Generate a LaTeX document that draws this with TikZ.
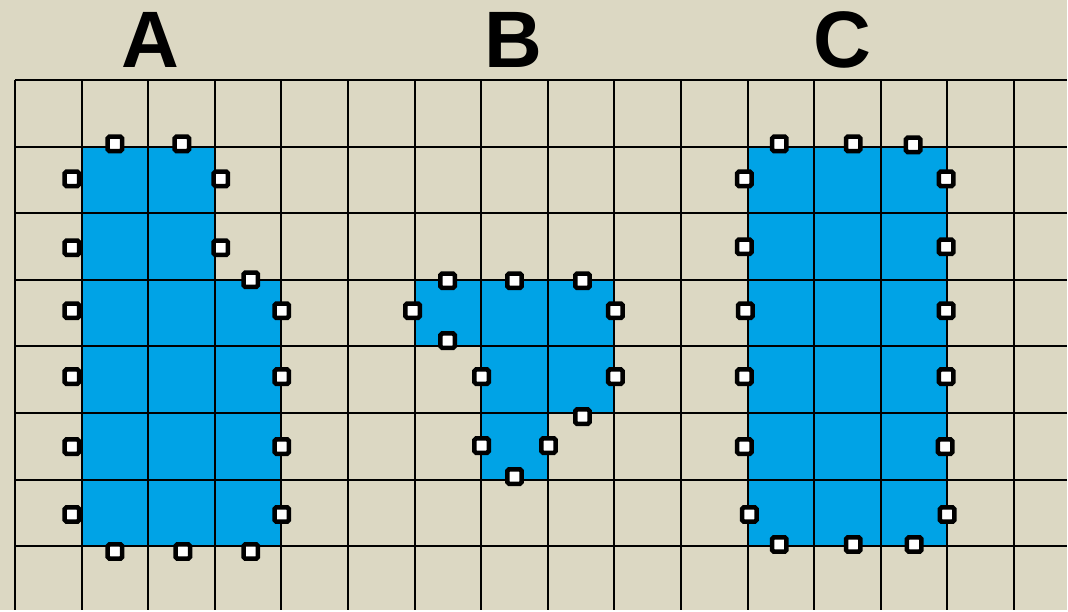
\documentclass[tikz,border=0pt]{standalone}
\usepackage{fontspec}
\setmainfont{Liberation Sans}
\usetikzlibrary{positioning}
\definecolor{sandbg}{HTML}{DCD8C3}
\definecolor{cellblue}{HTML}{00A3E6}

\begin{document}
\begin{tikzpicture}[x=0.025cm, y=-0.025cm,
  gridline/.style={line width=1.42pt, black},
  cell/.style={fill=cellblue},
  marker/.style={draw=black, line width=3.2pt, fill=white, rectangle,
                 rounded corners=1.2pt, minimum size=0.36cm, inner sep=0pt},
  shapelabel/.style={anchor=base, inner sep=0pt,
                     font=\fontsize{57}{60}\selectfont\bfseries},
]

% background fixes the size of the page
\fill[sandbg] (0,0) rectangle (1068,611);

% blue cells
\fill[cell] (81.67,146.67) rectangle (215,280);
\fill[cell] (81.67,280) rectangle (281.67,546.67);
\fill[cell] (415,280) rectangle (615,346.67);
\fill[cell] (481.67,346.67) rectangle (615,413.33);
\fill[cell] (481.67,413.33) rectangle (548.33,480);
\fill[cell] (748.33,146.67) rectangle (948.33,546.67);

% grid
\foreach \i in {0,...,15}
  \draw[gridline] ({15+66.667*\i},80) -- ({15+66.667*\i},611);
\foreach \j in {0,...,7}
  \draw[gridline] (15,{80+66.667*\j}) -- (1068,{80+66.667*\j});

% labels
\node[shapelabel] (lblA) at (151,68) {A};
\node[shapelabel] (lblB) at (514,68) {B};
\node[shapelabel] (lblC) at (843,68) {C};

% markers round shape A
\foreach \x/\y [count=\k] in {115/144, 182/144, 72/179, 221/179, 72/248,
    221/248, 251/280, 72/311, 282/311, 72/377, 282/377, 72/447, 282/447,
    72/515, 282/515, 115/552, 183/552, 251/552}
  \node[marker] (a\k) at (\x,\y) {};

% markers round shape B
\foreach \x/\y [count=\k] in {448/281, 515/281, 583/281, 413/311, 616/311,
    448/341, 482/377, 616/377, 583/417, 482/446, 549/446, 515/477}
  \node[marker] (b\k) at (\x,\y) {};

% markers round shape C
\foreach \x/\y [count=\k] in {780/144, 854/144, 914/145, 745/179, 947/179,
    745/247, 947/247, 746/311, 947/311, 745/377, 947/377, 745/447, 946/447,
    750/515, 948/515, 780/545, 854/545, 915/545}
  \node[marker] (c\k) at (\x,\y) {};

\end{tikzpicture}
\end{document}
